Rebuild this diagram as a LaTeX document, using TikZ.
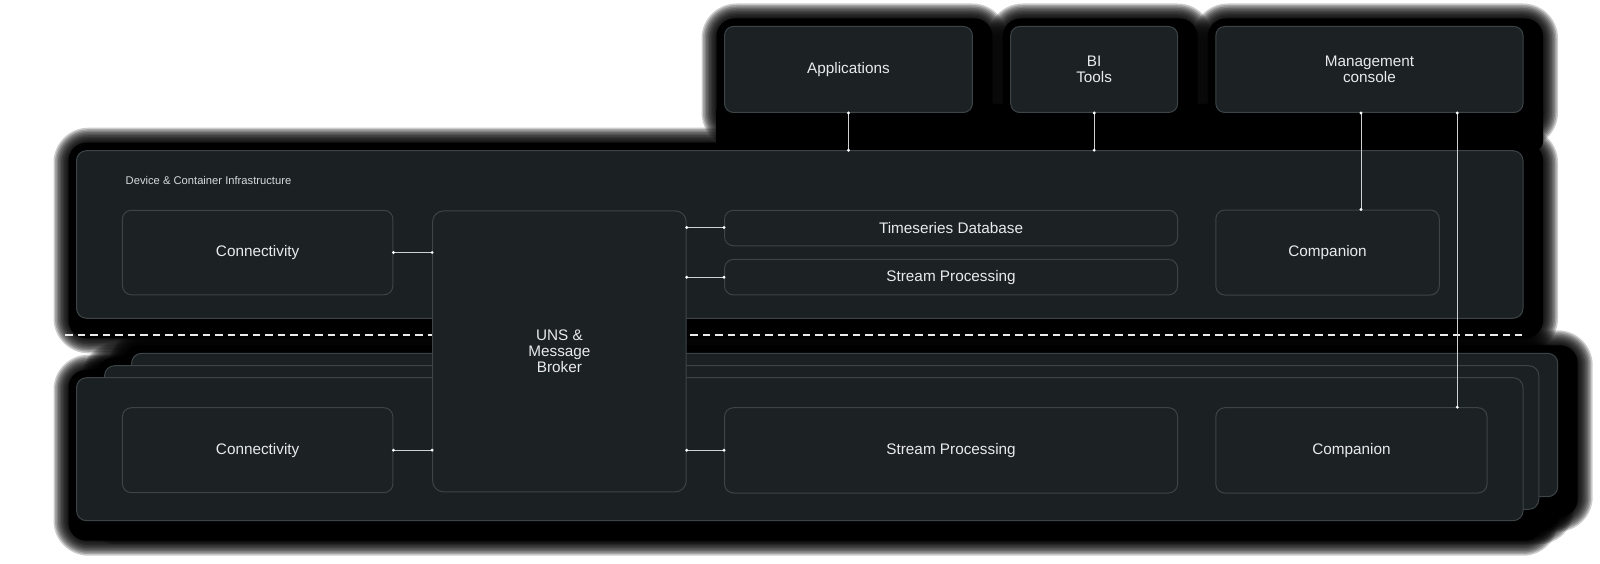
\documentclass[tikz,border=0pt]{standalone}
\usepackage{fontspec}
\setmainfont{Liberation Sans}
\usetikzlibrary{calc}
\definecolor{panel}{RGB}{27,32,35}
\definecolor{inner}{RGB}{28,33,36}
\definecolor{edge}{RGB}{60,68,71}
\definecolor{label}{RGB}{232,234,235}
\definecolor{sublabel}{RGB}{214,218,220}
\definecolor{wire}{RGB}{205,209,211}
\tikzset{
  panelbox/.style={draw=edge, line width=1pt, fill=panel, rounded corners=10pt, inner sep=0pt},
  card/.style={draw=edge, line width=1pt, fill=inner, rounded corners=9pt, text=label,
    font=\fontsize{15.3}{16}\selectfont, align=center, inner sep=0pt},
  wireline/.style={draw=wire, line width=0.9pt},
  wiredot/.style={fill=white, circle, inner sep=0pt, minimum size=3.2pt},
  divider/.style={draw=white!92!black, line width=1.6pt, dash pattern=on 7.5pt off 5pt},
}
% fuzzy halo behind a box: x1 y1 x2 y2 (y downward)
\newcommand\halo[4]{%
  \foreach \r in {29,27.5,...,14}{%
    \fill[black, opacity=0.2, rounded corners={\r pt+6pt}]
      ({#1-\r+6},{#2-\r+6}) rectangle ({#3+\r+6},{#4+\r+6});
  }%
  \fill[black, rounded corners=18pt] ({#1-8},{#2-8}) rectangle ({#3+20},{#4+20});
}
\begin{document}
\begin{tikzpicture}[x=1pt, y=-1pt]
\fill[white] (0,0) rectangle (1600,564);
\useasboundingbox (0,0) rectangle (1600,564);

% halos
\halo{724.5}{26.5}{972.4}{112.5}
\halo{1010.7}{26.5}{1177.6}{112.5}
\halo{1215.8}{26.5}{1523}{112.5}
\halo{76.5}{150.7}{1523}{318.3}
\halo{131.6}{353.3}{1557.7}{496.7}
\halo{104.6}{365.7}{1538.8}{509.3}
\halo{76.5}{377.7}{1523}{520.7}
\fill[black, rounded corners=8pt] (716,104) rectangle (1543,150);

% upper container
\node[panelbox, minimum width=1446.5pt, minimum height=167.6pt] (infra) at (799.75,234.5) {};
\node[anchor=west, text=sublabel, font=\fontsize{11.2}{13}\selectfont, inner sep=0pt] (infralabel) at (125.5,180.6) {Device \& Container Infrastructure};

% lower stack (back to front)
\node[panelbox, minimum width=1426.1pt, minimum height=143.4pt] (stackc) at (844.65,425) {};
\node[panelbox, minimum width=1434.2pt, minimum height=143.6pt] (stackb) at (821.7,437.5) {};
\node[panelbox, minimum width=1446.5pt, minimum height=143pt] (stacka) at (799.75,449.2) {};

% divider
\coordinate (divL) at (65,335);
\coordinate (divR) at (1522,335);
\draw[divider] (divL) -- (divR);

% top cards
\node[card, minimum width=247.9pt, minimum height=86pt] (apps) at (848.45,69.5) {Applications};
\node[card, minimum width=166.9pt, minimum height=86pt] (bi) at (1094.15,69.5) {BI\\Tools};
\node[card, minimum width=307.2pt, minimum height=86pt] (mgmt) at (1369.4,69.5) {Management\\console};

% upper inner cards
\node[card, minimum width=270.5pt, minimum height=84.5pt] (conn1) at (257.65,252.5) {Connectivity};
\node[card, minimum width=453.1pt, minimum height=35.5pt] (tsdb) at (951.05,228) {Timeseries Database};
\node[card, minimum width=453.1pt, minimum height=35.5pt] (sp1) at (951.05,277.2) {Stream Processing};
\node[card, minimum width=223.5pt, minimum height=85pt] (comp1) at (1327.55,252.5) {Companion};

% lower inner cards
\node[card, minimum width=270.5pt, minimum height=85pt] (conn2) at (257.65,450.2) {Connectivity};
\node[card, minimum width=453.1pt, minimum height=85.3pt] (sp2) at (951.05,450.35) {Stream Processing};
\node[card, minimum width=271.2pt, minimum height=85.3pt] (comp2) at (1351.4,450.35) {Companion};

% broker
\node[card, rounded corners=11pt, minimum width=253.6pt, minimum height=281pt] (uns) at (559.4,351.4) {UNS \&\\Message\\Broker};

% connectors
\coordinate (mx1) at (1361,0);
\coordinate (mx2) at (1457.3,0);
\coordinate (ly1) at (0,227.5);
\coordinate (ly2) at (0,277.2);
\coordinate (ly3) at (0,450.2);

\draw[wireline] (apps.south) -- (apps.south |- infra.north)
  node[pos=0, wiredot] {} node[pos=1, wiredot] {};
\draw[wireline] (bi.south) -- (bi.south |- infra.north)
  node[pos=0, wiredot] {} node[pos=1, wiredot] {};
\draw[wireline] (mx1 |- mgmt.south) -- (mx1 |- comp1.north)
  node[pos=0, wiredot] {} node[pos=1, wiredot] {};
\draw[wireline] (mx2 |- mgmt.south) -- (mx2 |- comp2.north)
  node[pos=0, wiredot] {} node[pos=1, wiredot] {};
\draw[wireline] (conn1.east) -- (conn1.east -| uns.west)
  node[pos=0, wiredot] {} node[pos=1, wiredot] {};
\draw[wireline] (uns.east |- ly1) -- (tsdb.west |- ly1)
  node[pos=0, wiredot] {} node[pos=1, wiredot] {};
\draw[wireline] (uns.east |- ly2) -- (sp1.west |- ly2)
  node[pos=0, wiredot] {} node[pos=1, wiredot] {};
\draw[wireline] (conn2.east |- ly3) -- (uns.west |- ly3)
  node[pos=0, wiredot] {} node[pos=1, wiredot] {};
\draw[wireline] (uns.east |- ly3) -- (sp2.west |- ly3)
  node[pos=0, wiredot] {} node[pos=1, wiredot] {};
\end{tikzpicture}
\end{document}
